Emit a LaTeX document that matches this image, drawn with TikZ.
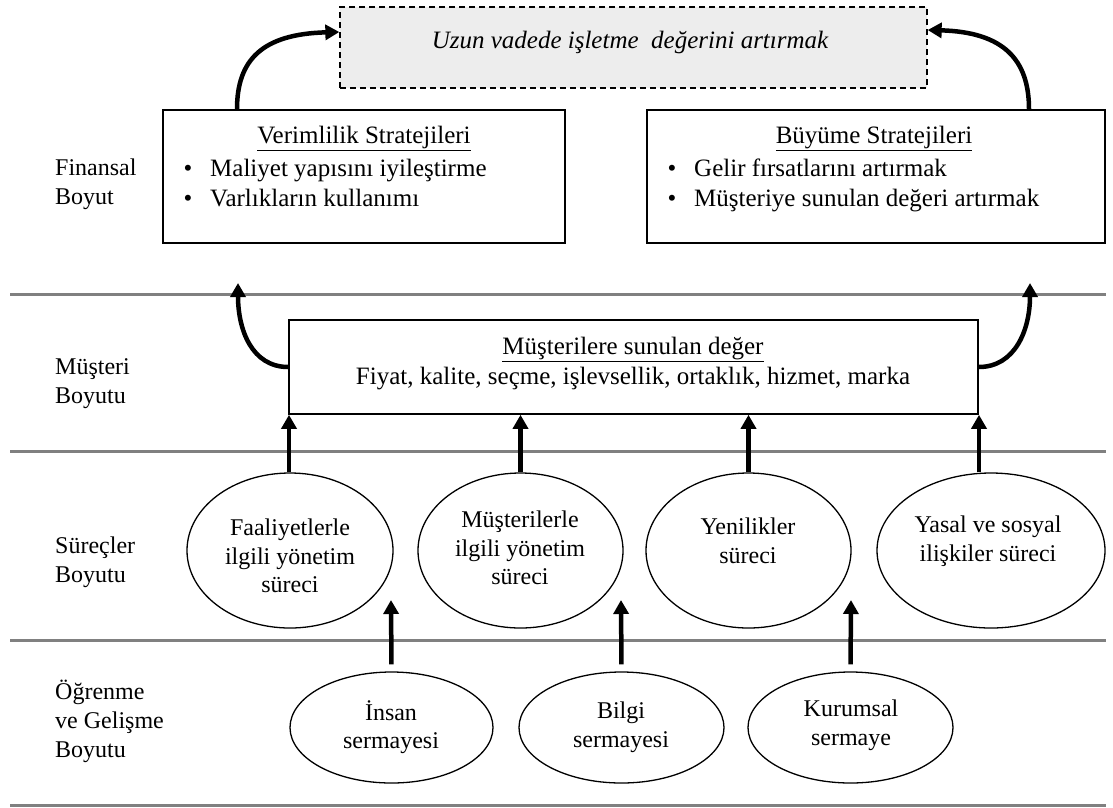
\documentclass[tikz,border=0pt]{standalone}
\usepackage{fontspec}
\setmainfont{Liberation Serif}
\usetikzlibrary{arrows.meta,shapes.geometric}
\definecolor{rulegray}{RGB}{128,128,128}
\begin{document}
\begin{tikzpicture}[x=1pt,y=-1pt,
  txt/.style={font=\fontsize{24}{28.5}\selectfont, inner sep=0, align=center},
  btxt/.style={font=\fontsize{25}{30}\selectfont, inner sep=0, align=center},
  lbl/.style={font=\fontsize{24}{29}\selectfont, inner sep=0, align=left, anchor=west},
  frame/.style={draw, line width=1.6, inner sep=0},
  oval/.style={ellipse, draw, line width=1.3, inner sep=0},
  goal/.style={draw, dashed, dash pattern=on 6pt off 4pt, line width=1.3, fill=black!7, inner sep=0},
  layer/.style={draw=rulegray, line width=3},
  flow/.style={line width=4.5, -{Triangle[length=14pt,width=15pt]}},
]
\useasboundingbox (0,0) rectangle (1113,807);

% layer separators
\draw[layer] (10,294) -- (1106,294);
\draw[layer] (10,451) -- (1106,451);
\draw[layer] (10,640) -- (1106,640);
\draw[layer] (10,805) -- (1106,805);

% layer names
\node[lbl] (finL) at (55,184) {Finansal\\Boyut};
\node[lbl] (musL) at (55,384) {Müşteri\\Boyutu};
\node[lbl] (surL) at (55,562) {Süreçler\\Boyutu};
\node[lbl] (ogrL) at (55,721) {Öğrenme\\ve Gelişme\\Boyutu};

% long-term goal
\node[goal, minimum width=587, minimum height=81] (goal) at (633.5,47.5) {};
\node[btxt, font=\fontsize{25}{30}\selectfont\itshape] (goalT) at (630,42) {Uzun vadede işletme\ \ değerini artırmak};

% financial strategies
\node[frame, minimum width=402, minimum height=133] (eff) at (364,176.5) {};
\node[btxt, anchor=base] (effT) at (364,143) {\underline{Verimlilik Stratejileri}};
\node[btxt, anchor=base] (effB1) at (188,176) {•};
\node[btxt, anchor=base west] (effI1) at (210,176) {Maliyet yapısını iyileştirme};
\node[btxt, anchor=base] (effB2) at (188,206) {•};
\node[btxt, anchor=base west] (effI2) at (210,206) {Varlıkların kullanımı};

\node[frame, minimum width=458, minimum height=133] (grw) at (876,176.5) {};
\node[btxt, anchor=base] (grwT) at (874,143) {\underline{Büyüme Stratejileri}};
\node[btxt, anchor=base] (grwB1) at (672,176) {•};
\node[btxt, anchor=base west] (grwI1) at (694,176) {Gelir fırsatlarını artırmak};
\node[btxt, anchor=base] (grwB2) at (672,206) {•};
\node[btxt, anchor=base west] (grwI2) at (694,206) {Müşteriye sunulan değeri artırmak};

% customer value
\node[frame, minimum width=689, minimum height=94] (val) at (633.5,367) {};
\node[btxt, anchor=base] (valT) at (633,354) {\underline{Müşterilere sunulan değer}};
\node[btxt, anchor=base] (valL) at (633,384) {Fiyat, kalite, seçme, işlevsellik, ortaklık, hizmet, marka};

% internal processes
\node[oval, minimum width=206, minimum height=155] (p1) at (290,550.5) {};
\node[oval, minimum width=205, minimum height=155] (p2) at (520.5,550.5) {};
\node[oval, minimum width=205, minimum height=155] (p3) at (748.5,550.5) {};
\node[oval, minimum width=228, minimum height=155] (p4) at (991,550.5) {};
\node[txt] (p1t) at (290,556) {Faaliyetlerle\\ilgili yönetim\\süreci};
\node[txt] (p2t) at (520,548) {Müşterilerle\\ilgili yönetim\\süreci};
\node[txt] (p3t) at (748,541) {Yenilikler\\süreci};
\node[txt] (p4t) at (988,541) {Yasal ve sosyal\\ilişkiler süreci};

% learning and growth
\node[oval, minimum width=203, minimum height=111] (c1) at (391.5,727.5) {};
\node[oval, minimum width=205, minimum height=111] (c2) at (621.5,727.5) {};
\node[oval, minimum width=205, minimum height=111] (c3) at (850.5,727.5) {};
\node[txt] (c1t) at (391,727) {İnsan\\sermayesi};
\node[txt] (c2t) at (621,727) {Bilgi\\sermayesi};
\node[txt] (c3t) at (851,725) {Kurumsal\\sermaye};

% free arrow ends
\coordinate (tipL) at (238,283);
\coordinate (tipR) at (1030,283);
\coordinate (a1) at (391,600);
\coordinate (a2) at (621,600);
\coordinate (a3) at (851,600);

% financial strategies lead to the goal
\draw[flow] (eff.north -| 237,0) .. controls (237,60) and (262,34) .. (goal.west |- 0,32);
\draw[flow] (grw.north -| 1029,0) .. controls (1029,60) and (1004,32) .. (goal.east |- 0,30);

% customer value feeds both strategies
\draw[flow] (val.west) .. controls (252,367) and (238,330) .. (tipL);
\draw[flow] (val.east) .. controls (1015,367) and (1030,330) .. (tipR);

% processes feed customer value
\draw[flow] (p1.north -| 289,0) -- (val.south -| 289,0);
\draw[flow] (p2.north) -- (val.south -| p2.north);
\draw[flow] (p3.north) -- (val.south -| p3.north);
\draw[flow] (p4.north -| 979,0) -- (val.south -| 979,0);

% capitals feed processes
\draw[flow, shorten <=7pt] (c1.north) -- (a1);
\draw[flow, shorten <=7pt] (c2.north) -- (a2);
\draw[flow, shorten <=7pt] (c3.north) -- (a3);
\end{tikzpicture}
\end{document}
